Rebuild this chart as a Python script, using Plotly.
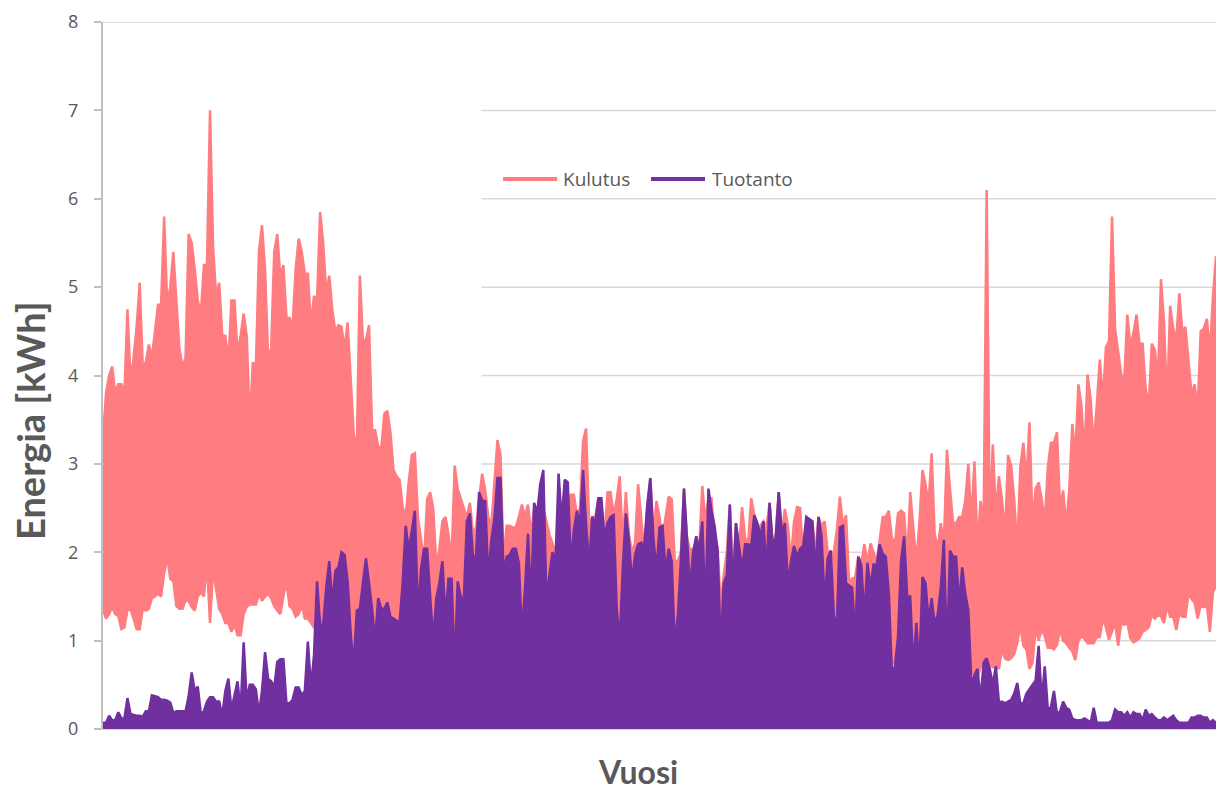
import plotly.graph_objects as go

# Vuorokauden suurin ja pienin tuntikulutus sekä suurin tuntituotanto (kWh), päivät 1-365
kulutus_max = [
    3.3, 3.8, 4.0, 4.1, 3.8, 3.9, 3.9, 3.8, 4.75, 3.95, 4.2, 4.55, 5.05, 4.1, 4.15, 4.35, 4.2, 4.5, 4.8, 4.8, 5.8, 4.8, 5.0, 5.4, 4.8, 4.3, 4.1, 4.2, 5.6, 5.5, 5.2, 4.85,
    4.7, 5.25, 5.25, 7.0, 5.45, 4.9, 5.05, 4.45, 4.45, 4.15, 4.85, 4.85, 4.25, 4.45, 4.7, 4.45, 3.45, 4.15, 4.1, 5.4, 5.7, 5.2, 4.2, 4.3, 5.4, 5.6, 5.1, 5.25, 4.65, 4.65, 4.55, 5.2, 5.55,
    5.4, 5.15, 5.15, 4.57, 4.9, 4.85, 5.85, 5.5, 4.93, 5.13, 4.74, 4.5, 4.57, 4.55, 4.3, 4.6, 3.9, 3.33, 3.17, 5.13, 4.4, 4.4, 4.57, 3.38, 3.38, 3.2, 3.17, 3.57, 3.6, 3.36, 2.93, 2.86, 2.82,
    2.51, 2.4, 2.8, 3.1, 3.12, 2.4, 2.15, 1.9, 2.6, 2.68, 2.49, 1.85, 2.04, 2.35, 2.4, 2.2, 1.9, 2.98, 2.72, 2.6, 2.5, 2.4, 2.56, 2.21, 2.28, 2.6, 2.89, 2.7, 2.4, 2.3, 2.8, 3.27, 3.1,
    1.9, 2.3, 2.3, 2.28, 2.28, 2.4, 2.54, 2.4, 2.54, 2.2, 2.5, 2.3, 2.7, 2.5, 2.35, 2.2, 2.1, 2.0, 2.3, 2.5, 2.6, 2.5, 2.65, 2.65, 2.42, 2.5, 3.26, 3.4, 2.3, 2.4, 2.4, 2.61,
    2.5, 2.18, 2.68, 2.68, 2.42, 2.6, 2.86, 2.1, 2.68, 2.2, 2.0, 2.1, 2.77, 2.35, 2.0, 2.5, 2.84, 2.2, 2.58, 2.4, 2.16, 2.4, 2.63, 2.6, 1.9, 1.9, 2.0, 2.72, 2.16, 2.02, 2.05, 2.07, 2.06,
    2.75, 2.35, 2.61, 2.61, 2.16, 2.05, 1.41, 1.74, 2.0, 2.54, 1.7, 2.33, 2.04, 2.51, 2.16, 2.11, 2.61, 2.42, 2.3, 2.3, 2.35, 2.28, 2.56, 2.1, 2.2, 2.68, 2.2, 2.49, 2.3, 1.9, 2.35, 2.51, 2.5,
    1.9, 2.16, 2.37, 2.35, 2.0, 2.4, 2.3, 2.35, 2.0, 2.0, 2.0, 2.25, 2.63, 2.3, 2.42, 1.65, 1.7, 1.72, 1.95, 1.88, 2.09, 1.88, 2.1, 2.0, 1.88, 2.14, 2.4, 2.4, 2.47, 2.16, 2.1, 2.44,
    2.47, 2.44, 1.9, 2.68, 2.23, 1.88, 2.33, 2.93, 2.77, 2.54, 3.12, 2.2, 2.05, 2.33, 2.1, 3.16, 2.72, 2.33, 2.33, 2.4, 2.4, 2.58, 3.0, 2.33, 3.03, 2.05, 2.58, 2.3, 6.1, 2.3, 3.22, 2.44, 2.86,
    2.6, 2.2, 3.1, 2.98, 2.6, 2.02, 2.96, 3.24, 2.8, 3.47, 2.3, 2.72, 2.79, 2.6, 2.35, 2.96, 3.24, 3.24, 3.36, 2.5, 2.7, 2.3, 2.7, 3.45, 3.1, 3.9, 3.66, 3.1, 4.01, 3.73, 3.2, 3.66, 4.18,
    3.71, 4.32, 4.39, 5.8, 4.53, 4.29, 4.01, 3.94, 4.69, 4.32, 4.48, 4.69, 4.36, 4.36, 3.85, 3.66, 4.36, 4.29, 3.94, 5.09, 4.6, 3.66, 4.79, 4.53, 4.4, 4.93, 4.5, 4.55, 4.13, 3.78, 3.9, 3.6, 4.5, 4.53, 4.64, 4.27, 4.88, 5.35,
]

kulutus_min = [
    1.35, 1.25, 1.3, 1.38, 1.3, 1.28, 1.13, 1.15, 1.35, 1.35, 1.25, 1.13, 1.13, 1.36, 1.34, 1.36, 1.48, 1.5, 1.53, 1.5, 1.76, 1.95, 1.7, 1.67, 1.39, 1.36, 1.36, 1.46, 1.45, 1.38, 1.34, 1.5,
    1.55, 1.5, 1.88, 1.2, 1.8, 1.55, 1.36, 1.3, 1.2, 1.2, 1.1, 1.18, 1.06, 1.06, 1.3, 1.38, 1.41, 1.41, 1.41, 1.53, 1.45, 1.5, 1.53, 1.48, 1.39, 1.34, 1.3, 1.5, 1.67, 1.39, 1.36, 1.27, 1.3,
    1.4, 1.25, 1.25, 1.2, 1.15, 1.1, 1.1, 1.05, 1.0, 1.0, 0.95, 0.9, 0.9, 0.9, 0.85, 0.85, 0.8, 0.75, 0.9, 0.9, 0.9, 0.85, 0.85, 1.0, 0.85, 0.8, 0.8, 0.8, 0.75, 0.75, 0.7, 0.7, 0.7,
    0.7, 0.68, 0.7, 0.65, 0.66, 0.62, 0.64, 0.6, 0.62, 0.6, 0.58, 0.6, 0.57, 0.6, 0.56, 0.58, 0.55, 0.6, 0.57, 0.55, 0.58, 0.55, 0.54, 0.56, 0.55, 0.52, 0.55, 0.53, 0.55, 0.52, 0.54, 0.52, 0.5,
    0.52, 0.5, 0.53, 0.5, 0.51, 0.54, 0.5, 0.49, 0.46, 0.5, 0.5, 0.53, 0.5, 0.48, 0.46, 0.5, 0.5, 0.46, 0.5, 0.52, 0.5, 0.47, 0.5, 0.5, 0.54, 0.5, 0.5, 0.47, 0.5, 0.52, 0.5, 0.53,
    0.5, 0.52, 0.48, 0.5, 0.51, 0.49, 0.5, 0.53, 0.5, 0.47, 0.5, 0.5, 0.52, 0.49, 0.5, 0.48, 0.5, 0.52, 0.5, 0.5, 0.47, 0.5, 0.51, 0.5, 0.49, 0.5, 0.53, 0.5, 0.5, 0.48, 0.5, 0.52, 0.5,
    0.52, 0.5, 0.53, 0.5, 0.52, 0.55, 0.53, 0.5, 0.52, 0.55, 0.53, 0.52, 0.55, 0.54, 0.52, 0.55, 0.56, 0.54, 0.55, 0.57, 0.55, 0.56, 0.58, 0.56, 0.57, 0.6, 0.58, 0.57, 0.6, 0.58, 0.6, 0.62, 0.6,
    0.62, 0.6, 0.63, 0.62, 0.65, 0.63, 0.64, 0.66, 0.65, 0.67, 0.66, 0.68, 0.66, 0.7, 0.68, 0.7, 0.72, 0.7, 0.72, 0.74, 0.72, 0.75, 0.73, 0.76, 0.74, 0.78, 0.76, 0.8, 0.75, 0.72, 0.8, 0.78,
    0.8, 0.8, 0.85, 0.9, 0.9, 0.9, 0.9, 0.85, 0.85, 0.85, 0.85, 0.85, 0.85, 0.85, 0.8, 0.8, 0.8, 0.85, 0.9, 0.95, 1.05, 0.95, 0.75, 0.65, 0.6, 0.58, 0.7, 0.8, 0.75, 0.72, 0.7, 0.72, 0.68,
    0.9, 0.8, 0.78, 0.8, 0.85, 0.97, 1.18, 0.94, 0.9, 0.68, 0.75, 1.13, 1.0, 1.13, 1.05, 0.92, 0.92, 0.9, 0.95, 1.13, 1.0, 0.97, 0.92, 0.88, 0.78, 1.0, 1.05, 1.02, 0.97, 0.97, 0.97, 1.04, 1.04,
    1.25, 1.15, 1.01, 1.1, 1.2, 0.94, 1.2, 1.18, 1.2, 1.03, 0.98, 1.0, 1.03, 1.1, 1.12, 1.15, 1.29, 1.25, 1.29, 1.27, 1.2, 1.39, 1.27, 1.27, 1.12, 1.3, 1.27, 1.27, 1.53, 1.47, 1.43, 1.25, 1.4, 1.38, 1.4, 1.1, 1.55, 1.62,
]

tuotanto_max = [
    0.07, 0.07, 0.15, 0.1, 0.1, 0.19, 0.12, 0.12, 0.35, 0.17, 0.16, 0.15, 0.15, 0.14, 0.2, 0.2, 0.38, 0.37, 0.36, 0.33, 0.33, 0.32, 0.3, 0.18, 0.2, 0.2, 0.2, 0.2, 0.37, 0.64, 0.43, 0.48,
    0.17, 0.2, 0.31, 0.36, 0.36, 0.31, 0.31, 0.15, 0.43, 0.57, 0.22, 0.38, 0.54, 0.2, 0.98, 0.33, 0.5, 0.5, 0.45, 0.17, 0.43, 0.87, 0.57, 0.54, 0.47, 0.76, 0.79, 0.79, 0.29, 0.29, 0.33, 0.47, 0.47,
    0.38, 0.43, 0.99, 0.47, 0.83, 1.67, 1.18, 1.18, 1.6, 1.9, 1.41, 1.79, 1.83, 2.0, 1.97, 1.67, 1.08, 0.73, 1.34, 1.36, 1.65, 1.93, 1.65, 1.36, 0.99, 1.48, 1.36, 1.36, 1.43, 1.27, 1.25, 1.22, 1.2,
    1.65, 2.3, 2.02, 2.23, 2.47, 1.3, 1.81, 2.04, 2.04, 1.5, 1.0, 1.48, 1.65, 1.9, 1.25, 1.7, 1.7, 0.68, 1.67, 1.5, 1.46, 2.35, 2.44, 1.95, 1.95, 2.68, 2.58, 2.58, 1.7, 2.14, 2.37, 2.84, 2.84,
    1.76, 1.95, 1.97, 2.04, 2.04, 1.88, 1.08, 1.58, 2.21, 1.41, 2.56, 2.44, 2.77, 2.93, 1.48, 1.76, 2.0, 1.9, 2.89, 2.35, 2.82, 2.79, 1.86, 2.25, 2.47, 2.3, 2.93, 2.3, 1.86, 2.4, 2.33, 2.61,
    2.61, 2.16, 2.33, 2.4, 2.42, 1.36, 1.01, 1.83, 2.44, 2.14, 1.65, 1.97, 2.09, 2.11, 2.07, 2.54, 2.84, 2.16, 1.79, 2.28, 2.3, 1.76, 2.04, 1.9, 0.94, 1.29, 1.9, 2.72, 2.16, 1.58, 2.0, 2.18, 2.04,
    2.35, 1.29, 2.72, 2.47, 2.3, 2.02, 0.92, 1.65, 1.74, 2.54, 1.55, 2.33, 2.04, 1.81, 2.09, 2.09, 2.07, 2.42, 2.33, 2.18, 2.35, 1.76, 2.56, 2.09, 2.16, 2.68, 2.21, 2.33, 1.62, 1.9, 2.07, 1.95, 2.04,
    2.07, 2.4, 2.37, 2.35, 1.76, 2.4, 2.18, 1.41, 1.93, 2.02, 1.29, 1.15, 2.28, 2.3, 1.65, 1.62, 1.6, 1.04, 1.95, 1.85, 1.27, 1.88, 1.6, 1.86, 1.85, 2.09, 1.98, 1.95, 1.53, 0.64, 0.71, 1.04,
    1.9, 2.18, 1.5, 1.5, 0.68, 1.2, 0.68, 1.72, 1.65, 1.22, 1.48, 1.18, 1.3, 1.6, 2.14, 0.8, 2.02, 1.95, 1.95, 1.41, 1.83, 1.53, 1.34, 0.5, 0.61, 0.68, 0.33, 0.75, 0.8, 0.68, 0.5, 0.71, 0.3,
    0.31, 0.29, 0.31, 0.33, 0.4, 0.52, 0.29, 0.29, 0.4, 0.45, 0.5, 0.55, 0.94, 0.31, 0.71, 0.22, 0.25, 0.43, 0.17, 0.2, 0.31, 0.24, 0.22, 0.12, 0.1, 0.1, 0.1, 0.12, 0.1, 0.07, 0.24, 0.07, 0.07,
    0.07, 0.07, 0.07, 0.1, 0.22, 0.19, 0.19, 0.15, 0.19, 0.13, 0.19, 0.17, 0.17, 0.1, 0.22, 0.15, 0.17, 0.13, 0.1, 0.1, 0.13, 0.1, 0.13, 0.15, 0.1, 0.07, 0.07, 0.07, 0.07, 0.13, 0.13, 0.15, 0.15, 0.13, 0.13, 0.07, 0.1, 0.07,
]

assert len(kulutus_max) == len(kulutus_min) == len(tuotanto_max)

paivat = list(range(len(kulutus_max)))
y_ticks = [0, 1, 2, 3, 4, 5, 6, 7, 8]

PINK = "#FF7C80"
PURPLE = "#7030A0"
TEXT = "#595959"
GRID = "#D9D9D9"

fig = go.Figure()

# Kulutus: band between the daily minimum and maximum
fig.add_trace(go.Scatter(
    x=paivat, y=kulutus_min, mode="lines",
    line=dict(color=PINK, width=2.5), showlegend=False, hoverinfo="skip",
))
fig.add_trace(go.Scatter(
    x=paivat, y=kulutus_max, mode="lines", name="Kulutus",
    line=dict(color=PINK, width=2.5), fill="tonexty", fillcolor=PINK,
    showlegend=False,
))
# Tuotanto: solar production, drops to zero every night
fig.add_trace(go.Scatter(
    x=paivat, y=tuotanto_max, mode="lines", name="Tuotanto",
    line=dict(color=PURPLE, width=2.5), fill="tozeroy", fillcolor=PURPLE,
    showlegend=False,
))

shapes = []
for v in y_ticks[1:]:
    shapes.append(dict(
        type="line", xref="paper", yref="y",
        x0=0.0 if v == 8 else 0.34, x1=1.0, y0=v, y1=v,
        line=dict(color=GRID, width=1.5), layer="below",
    ))

# Legend drawn by hand: long line samples with labels
LEG_Y = 0.778
legend_items = [("Kulutus", PINK, 0.3594, 0.408, 0.4115),
                ("Tuotanto", PURPLE, 0.4924, 0.5409, 0.5454)]
annotations = []
for label, color, x0, x1, xt in legend_items:
    shapes.append(dict(
        type="line", xref="paper", yref="paper",
        x0=x0, x1=x1, y0=LEG_Y, y1=LEG_Y,
        line=dict(color=color, width=4),
    ))
    annotations.append(dict(
        text=label, xref="paper", yref="paper", x=xt, y=LEG_Y,
        xanchor="left", yanchor="middle", showarrow=False,
        font=dict(family="Open Sans", size=19, color=TEXT),
    ))

annotations.append(dict(
    text="Energia [kWh]", xref="paper", yref="paper", x=-0.0656, y=0.437,
    xanchor="center", yanchor="middle", textangle=-90, showarrow=False,
    font=dict(family="Lato", size=38, color=TEXT, weight="bold"),
))
annotations.append(dict(
    text="Vuosi", xref="paper", yref="paper", x=0.481, y=-0.0608,
    xanchor="center", yanchor="middle", showarrow=False,
    font=dict(family="Lato", size=32, color=TEXT, weight="bold"),
))

fig.update_layout(
    width=1218, height=794,
    margin=dict(l=103, r=2, t=22, b=65),
    paper_bgcolor="white", plot_bgcolor="white",
    showlegend=False,
    xaxis=dict(
        range=[0, len(paivat) - 1], showticklabels=False, ticks="",
        showgrid=False, zeroline=False,
        showline=True, linecolor=GRID, linewidth=1,
    ),
    yaxis=dict(
        range=[0, 8], tickvals=y_ticks, showgrid=False, zeroline=False,
        showline=True, linecolor="#BFBFBF", linewidth=2,
        ticks="outside", ticklen=7, tickcolor="#BFBFBF", tickwidth=1.5,
        ticklabelstandoff=12,
        tickfont=dict(family="Open Sans", size=18, color=TEXT),
    ),
    shapes=shapes,
    annotations=annotations,
)

fig.write_html("out.html")
